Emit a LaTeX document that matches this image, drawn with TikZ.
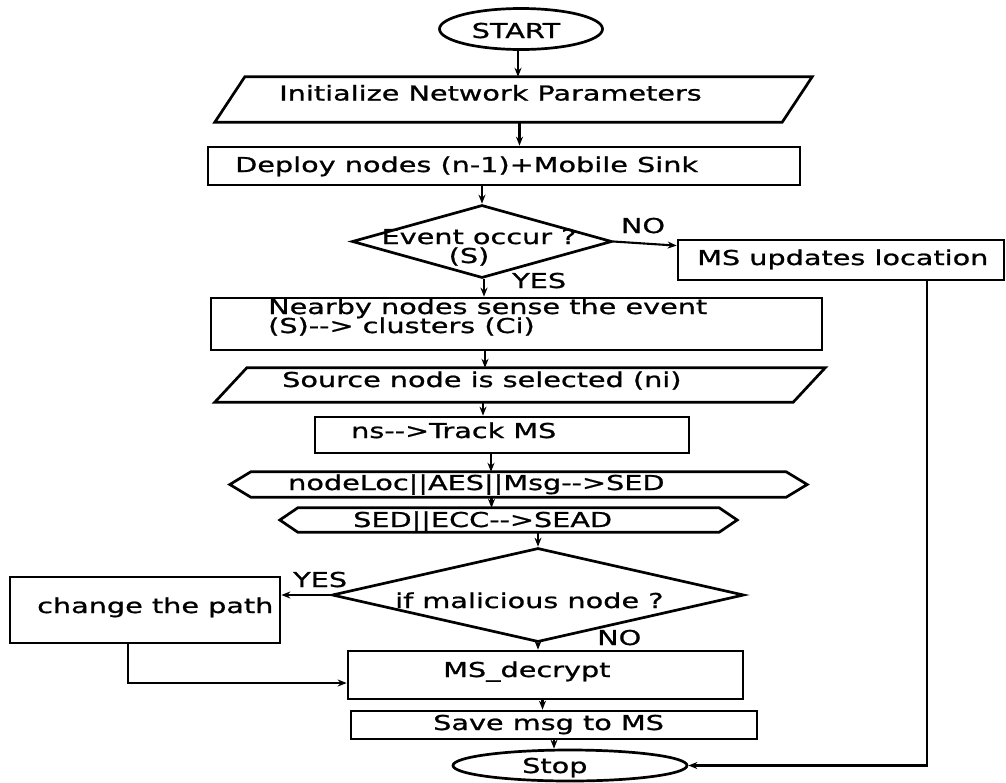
\documentclass[tikz,border=0pt]{standalone}
\usepackage{fontspec}
\setmainfont{DejaVu Sans}[FakeStretch=1.4,FakeBold=1]
\usetikzlibrary{shapes.geometric,arrows.meta}

\begin{document}
\begin{tikzpicture}[x=1pt,y=-1pt,
  outline/.style={draw=black,line width=2.7pt,inner sep=0pt},
  boxnode/.style={outline,rectangle},
  frame/.style={rectangle,inner sep=0pt},
  shapeline/.style={draw=black,line width=2.7pt,line join=miter},
  lbl/.style={inner sep=0pt,font=\fontsize{20.5}{17}\selectfont},
  arr/.style={draw=black,line width=2.1pt,-{Stealth[length=9pt,width=7pt]}}]

\useasboundingbox (0,0) rectangle (1006,782);

% terminals
\node[outline,ellipse,minimum width=163pt,minimum height=41pt] (start) at (521,29) {};
\node[lbl,anchor=base] (t-start) at (516,38) {START};

\node[outline,ellipse,minimum width=234pt,minimum height=31pt] (stop) at (570,765.5) {};
\node[lbl,anchor=base west] (t-stop) at (522,773) {Stop};

% input parallelograms (frame spans the full width, outline drawn on it)
\node[frame,minimum width=597pt,minimum height=45pt] (init) at (513.5,99.5) {};
\draw[shapeline] (init.south west) -- ([xshift=-30pt]init.south east) -- (init.north east)
  -- ([xshift=30pt]init.north west) -- cycle;
\node[lbl,anchor=base] (t-init) at (490.5,100.5) {Initialize Network Parameters};

\node[frame,minimum width=610pt,minimum height=34pt] (src) at (520,385) {};
\draw[shapeline] (src.south west) -- ([xshift=-32pt]src.south east) -- (src.north east)
  -- ([xshift=32pt]src.north west) -- cycle;
\node[lbl,anchor=base west] (t-src) at (282,387) {Source node is selected (ni)};

% process boxes
\node[boxnode,minimum width=592pt,minimum height=38pt] (deploy) at (504,166) {};
\node[lbl,anchor=base west] (t-deploy) at (235,172) {Deploy nodes (n-1)+Mobile Sink};

\node[boxnode,minimum width=326pt,minimum height=40pt] (ms) at (841,260) {};
\node[lbl,anchor=base west] (t-ms) at (697,265) {MS updates location};

\node[boxnode,minimum width=611pt,minimum height=52pt] (near) at (516.5,324) {};
\node[lbl,anchor=base west] (t-near1) at (268,314) {Nearby nodes sense the event};
\node[lbl,anchor=base west] (t-near2) at (268,333) {(S)-{}-> clusters (Ci)};

\node[boxnode,minimum width=374pt,minimum height=36pt] (track) at (502,435) {};
\node[lbl,anchor=base west] (t-track) at (351,438) {ns-{}->Track MS};

\node[boxnode,minimum width=270pt,minimum height=66pt] (change) at (145,610) {};
\node[lbl,anchor=base west] (t-change) at (37,613) {change the path};

\node[boxnode,minimum width=395pt,minimum height=48pt] (dec) at (545.5,675) {};
\node[lbl,anchor=base west] (t-dec) at (443,677) {MS\_decrypt};

\node[boxnode,minimum width=406pt,minimum height=28pt] (save) at (554,725) {};
\node[lbl,anchor=base west] (t-save) at (433,730) {Save msg to MS};

% hexagons
\node[frame,minimum width=577pt,minimum height=25pt] (hexa) at (518.5,484.5) {};
\draw[shapeline] (hexa.west) -- ([xshift=21pt]hexa.north west) -- ([xshift=-21pt]hexa.north east)
  -- (hexa.east) -- ([xshift=-21pt]hexa.south east) -- ([xshift=21pt]hexa.south west) -- cycle;
\node[lbl,anchor=base west] (t-hexa) at (288,490) {nodeLoc||AES||Msg-{}->SED};

\node[frame,minimum width=457pt,minimum height=24pt] (hexb) at (508.5,520) {};
\draw[shapeline] (hexb.west) -- ([xshift=18pt]hexb.north west) -- ([xshift=-18pt]hexb.north east)
  -- (hexb.east) -- ([xshift=-18pt]hexb.south east) -- ([xshift=18pt]hexb.south west) -- cycle;
\node[lbl,anchor=base west] (t-hexb) at (353,527) {SED||ECC-{}->SEAD};

% decisions
\node[outline,diamond,minimum width=260pt,minimum height=73pt] (ev) at (482,241.5) {};
\node[lbl,anchor=base] (t-ev1) at (479,244) {Event occur ?};
\node[lbl,anchor=base] (t-ev2) at (469,263) {(S)};

\node[outline,diamond,minimum width=412pt,minimum height=94pt] (mal) at (538,595) {};
\node[lbl,anchor=base west] (t-mal) at (395,608) {if malicious node ?};

% branch labels
\node[lbl,anchor=base] (t-no1) at (643,233) {NO};
\node[lbl,anchor=base west] (t-yes1) at (512,288) {YES};
\node[lbl,anchor=base west] (t-yes2) at (293,587) {YES};
\node[lbl,anchor=base west] (t-no2) at (597,645) {NO};

% flow
\draw[arr] ([xshift=-3pt]start.south) -- ([xshift=-3pt]start.south |- init.north);
\draw[arr] ([xshift=6pt]init.south) -- ([xshift=6pt]init.south |- deploy.north);
\draw[arr] (ev.north |- deploy.south) -- (ev.north);
\draw[arr] (ev.east) -- (ms.175);
\draw[arr] ([xshift=2pt]ev.south) -- ([xshift=2pt]ev.south |- near.north);
\draw[arr] ([xshift=-31.5pt]near.south) -- ([xshift=-31.5pt]near.south |- src.north);
\draw[arr] ([xshift=-37pt]src.south) -- ([xshift=-37pt]src.south |- track.north);
\draw[arr] ([xshift=-11pt]track.south) -- ([xshift=-11pt]track.south |- hexa.north);
\draw[arr] ([xshift=-27pt]hexa.south) -- ([xshift=-27pt]hexa.south |- hexb.north);
\draw[arr] (mal.north |- hexb.south) -- (mal.north);
\draw[arr] (mal.west) -- (mal.west -| change.east);
\draw[arr] (mal.south) -- (mal.south |- dec.north);
\draw[arr] ([xshift=-17pt]change.south) |- ([yshift=-8pt]dec.west);
\draw[arr] ([xshift=-3pt]dec.south) -- ([xshift=-3pt]dec.south |- save.north);
\draw[arr] (save.south) -- (save.south |- stop.north);
\draw[arr] ([xshift=86pt]ms.south) |- (stop.east);

\end{tikzpicture}
\end{document}
